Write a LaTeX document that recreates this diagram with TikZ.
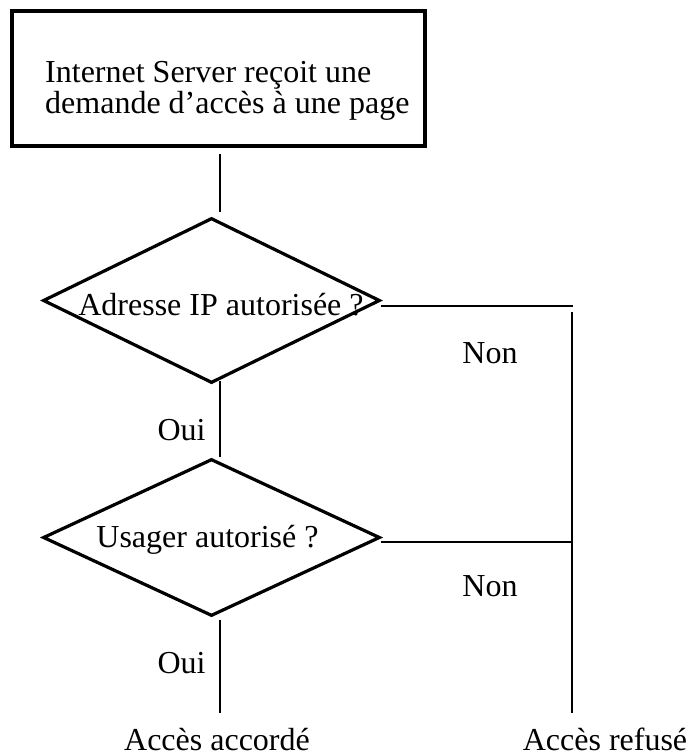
\documentclass[tikz,border=0pt]{standalone}
\usepackage{fontspec}
\setmainfont{Liberation Serif}
\usetikzlibrary{shapes.geometric,calc}

\tikzset{
  procbox/.style={draw, line width=3.2pt, rectangle, inner sep=0pt,
    minimum width=413pt, minimum height=135pt},
  decision/.style={draw, line width=3.2pt, diamond, inner sep=0pt,
    minimum width=337pt, minimum height=165pt},
  conn/.style={line width=2.4pt},
  lbl/.style={inner sep=0pt, font=\fontsize{32}{31}\selectfont},
}

\begin{document}
\begin{tikzpicture}[x=1pt, y=-1pt]
  \useasboundingbox (0,0) rectangle (691,756);

  % start box (text baseline anchored on its last line)
  \node[procbox] (srv) at (218.5,78.5) {};
  \node[lbl, anchor=base west, align=left] (srvtxt) at (45,113)
    {Internet Server reçoit une\\demande d’accès à une page};

  % decisions
  \node[decision] (ip) at (211.5,300.5) {};
  \node[lbl, anchor=base] (iptxt) at (221,315) {Adresse IP autorisée ?};

  \node[decision, minimum height=157pt] (usr) at (211.5,537.5) {};
  \node[lbl, anchor=base] (usrtxt) at (207.5,547) {Usager autorisé ?};

  % end points
  \coordinate (okend) at (220,713);
  \coordinate (junc) at (572,312);
  \coordinate (noend) at (572,713);
  \node[lbl, anchor=base] (ok) at (217,750) {Accès accordé};
  \node[lbl, anchor=base] (no) at (605,750) {Accès refusé};

  % main flow
  \draw[conn] ($(srv.south)+(1.5,6)$) -- ($(ip.north)+(8.5,-4)$);
  \draw[conn] ($(ip.south)+(8.5,-4)$) -- ($(usr.north)+(8.5,0)$);
  \draw[conn] ($(usr.south)+(8.5,2)$) -- (okend);

  % refusal branch
  \draw[conn] ($(ip.east)+(-1,5.5)$) -- ($(junc)+(1,-6)$);
  \draw[conn] (junc) -- (noend);
  \draw[conn] ($(usr.east)+(-1,4.5)$) -- (junc |- 0,542);

  % branch labels
  \node[lbl, anchor=base] at (181.5,440) {Oui};
  \node[lbl, anchor=base] at (181.5,673) {Oui};
  \node[lbl, anchor=base] at (490,363) {Non};
  \node[lbl, anchor=base] at (490,596) {Non};
\end{tikzpicture}
\end{document}
